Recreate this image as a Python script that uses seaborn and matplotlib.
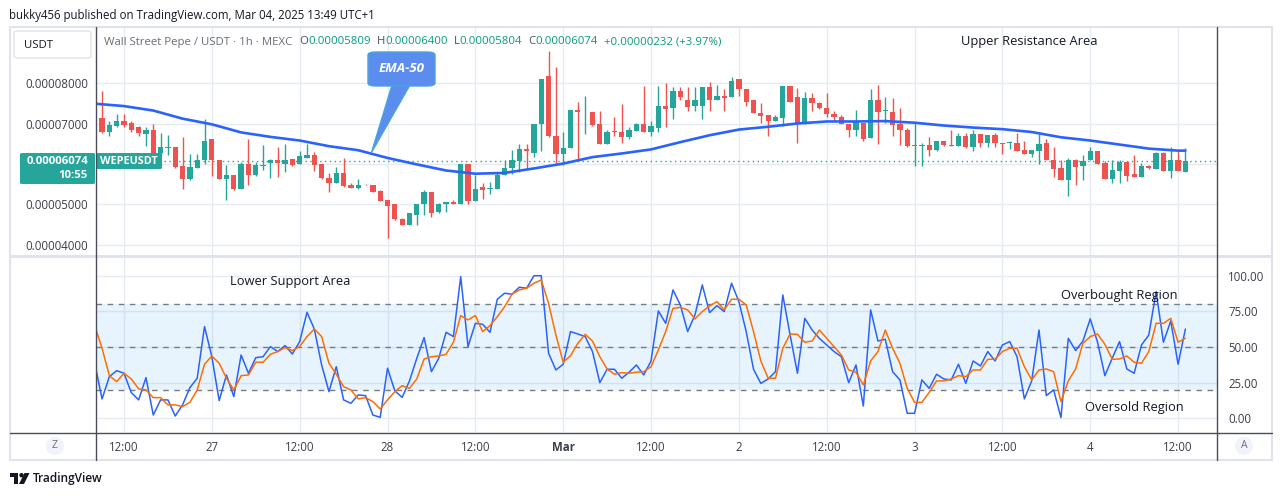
import numpy as np
import pandas as pd
import matplotlib
matplotlib.use("Agg")
import matplotlib.pyplot as plt
import matplotlib.patches as mpatches
from matplotlib.ticker import FixedLocator, FixedFormatter
import seaborn as sns

# hourly candles, hour = hours since Feb 26 00:00 (UTC+1)
hours = list(range(8, 158))
PRICE_UNIT = 1e-6  # prices below are in millionths of USDT

opens = [76.0, 71.3, 67.9, 69.5, 70.5, 70.2, 69.1, 67.4, 68.3, 62.8,
         64.0, 64.2, 59.4, 56.2, 59.0, 61.1, 66.1, 61.1, 56.2, 57.2,
         53.8, 59.9, 57.2, 59.6, 60.2, 61.1, 59.9, 61.3, 59.9, 61.5,
         62.1, 59.9, 56.6, 55.3, 57.8, 54.8, 54.1, 54.9, 54.9, 53.4,
         51.1, 50.1, 46.4, 44.9, 47.4, 50.0, 53.0, 48.2, 50.0, 50.6,
         50.0, 59.9, 50.8, 54.3, 53.8, 53.8, 57.2, 59.1, 60.7, 63.6,
         62.8, 69.8, 81.8, 67.0, 62.4, 63.9, 73.4, 72.5, 72.8, 69.8,
         64.9, 68.2, 68.0, 66.6, 68.1, 69.9, 67.9, 68.9, 74.2, 73.8,
         78.1, 75.9, 74.2, 74.4, 78.9, 75.9, 76.9, 76.5, 81.0, 78.5,
         75.9, 72.6, 72.0, 70.6, 71.3, 79.3, 76.6, 69.8, 76.3, 75.0,
         73.9, 72.4, 71.7, 69.9, 68.3, 70.2, 66.4, 75.9, 73.1, 72.9,
         69.8, 68.5, 64.5, 64.4, 64.8, 63.4, 65.6, 64.8, 64.4, 67.0,
         64.2, 67.5, 65.3, 67.2, 65.1, 65.2, 65.3, 63.4, 62.5, 63.1,
         65.2, 61.1, 58.9, 56.0, 61.1, 59.5, 61.1, 63.1, 60.2, 56.2,
         58.2, 60.5, 57.5, 56.8, 59.4, 58.7, 62.7, 58.2, 61.1, 58.09]

highs = [76.5, 78.1, 70.7, 72.4, 72.4, 70.5, 69.5, 69.1, 69.9, 67.7,
         67.2, 64.3, 66.6, 62.5, 62.5, 71.0, 66.1, 61.1, 59.8, 57.2,
         60.5, 66.1, 60.5, 64.8, 61.3, 64.2, 65.0, 61.3, 63.1, 65.0,
         63.0, 60.1, 57.9, 59.3, 61.6, 55.3, 56.4, 55.0, 54.9, 53.5,
         51.1, 50.2, 46.6, 47.8, 50.2, 53.5, 53.0, 50.4, 50.6, 51.1,
         59.9, 59.9, 57.4, 55.3, 55.6, 57.9, 61.1, 63.4, 65.0, 65.0,
         69.9, 81.0, 87.9, 83.9, 68.0, 73.4, 75.4, 76.7, 72.8, 73.0,
         68.3, 71.6, 74.8, 69.1, 70.2, 79.3, 70.7, 79.3, 80.0, 79.1,
         79.1, 78.9, 79.1, 79.1, 80.2, 79.6, 78.4, 81.4, 81.1, 78.5,
         75.9, 75.1, 72.0, 72.0, 79.3, 79.3, 78.8, 77.9, 77.5, 75.4,
         77.5, 73.2, 72.0, 69.9, 73.4, 70.2, 78.5, 79.5, 76.5, 76.2,
         73.8, 68.9, 70.2, 65.2, 66.6, 65.8, 65.8, 68.3, 67.7, 67.7,
         68.3, 67.5, 67.2, 67.7, 65.2, 65.6, 67.6, 65.8, 63.4, 67.5,
         66.2, 64.2, 61.1, 61.6, 61.3, 62.1, 64.1, 63.1, 60.7, 60.9,
         60.9, 60.5, 62.1, 60.2, 59.7, 63.0, 63.0, 64.1, 63.1, 64.00]

lows = [70.8, 67.7, 67.0, 69.1, 69.1, 68.0, 67.0, 64.4, 62.6, 62.1,
        62.1, 59.1, 53.9, 56.0, 58.9, 60.0, 57.0, 56.2, 51.1, 53.7,
        53.8, 54.8, 57.0, 58.4, 56.6, 56.8, 58.0, 59.5, 59.9, 61.5,
        58.2, 56.4, 53.1, 55.2, 54.3, 54.1, 53.9, 54.7, 53.0, 50.8,
        41.8, 46.1, 44.9, 44.9, 44.9, 47.4, 47.0, 48.0, 48.2, 50.0,
        50.0, 50.0, 50.8, 51.3, 52.7, 53.8, 57.2, 57.6, 58.0, 58.7,
        61.7, 63.1, 66.6, 59.9, 59.7, 63.9, 61.3, 67.3, 69.5, 64.9,
        64.9, 67.0, 65.2, 66.1, 68.1, 67.9, 67.0, 68.0, 69.1, 71.0,
        75.9, 73.0, 73.2, 71.0, 73.0, 75.7, 73.2, 76.5, 76.7, 74.3,
        72.5, 70.1, 67.0, 70.6, 69.5, 75.2, 65.2, 69.8, 73.2, 73.6,
        71.6, 70.5, 69.8, 66.6, 67.0, 65.6, 66.4, 65.0, 70.2, 67.0,
        64.8, 64.2, 59.5, 59.5, 61.9, 63.2, 64.4, 64.4, 64.4, 63.9,
        63.1, 64.2, 64.3, 64.3, 62.4, 63.8, 63.1, 62.5, 61.7, 60.1,
        61.1, 56.8, 56.0, 52.1, 54.8, 56.0, 61.1, 60.0, 56.2, 55.2,
        55.2, 55.7, 56.8, 56.8, 58.7, 58.7, 58.2, 56.6, 58.3, 58.04]

closes = [71.2, 67.9, 69.7, 70.5, 69.7, 68.3, 67.7, 68.3, 62.8, 64.2,
          64.2, 59.3, 56.2, 59.2, 60.9, 65.8, 60.9, 56.2, 57.2, 53.8,
          59.9, 57.2, 59.7, 59.8, 61.1, 60.2, 61.1, 59.7, 61.9, 62.1,
          59.8, 56.6, 55.3, 57.8, 54.6, 54.1, 54.9, 54.8, 53.1, 50.9,
          49.6, 46.3, 44.9, 47.8, 50.1, 53.0, 48.0, 50.1, 50.6, 50.2,
          59.9, 50.8, 53.9, 53.5, 54.0, 57.4, 59.1, 60.9, 63.6, 63.3,
          69.9, 81.0, 66.9, 62.4, 64.0, 73.4, 72.8, 72.7, 69.7, 64.9,
          68.0, 68.0, 66.6, 68.3, 69.9, 67.9, 69.3, 74.4, 73.5, 78.1,
          76.5, 74.0, 75.7, 79.1, 75.9, 76.9, 76.2, 80.6, 78.5, 75.4,
          72.5, 71.8, 70.6, 71.7, 79.3, 75.2, 69.8, 76.3, 75.1, 73.8,
          72.4, 71.6, 69.8, 68.4, 70.3, 66.1, 75.7, 72.8, 73.3, 69.7,
          68.5, 64.4, 64.6, 64.8, 63.4, 65.6, 64.6, 64.4, 67.0, 64.2,
          67.5, 65.3, 67.2, 65.2, 65.0, 65.4, 63.1, 62.5, 63.4, 65.0,
          61.1, 58.7, 56.0, 61.1, 59.3, 60.7, 63.1, 60.0, 56.2, 58.4,
          60.5, 57.0, 56.8, 59.4, 59.0, 62.7, 58.2, 61.1, 58.3, 60.74]

# EMA-50 every 4 hours
ema_hours = [8, 12, 16, 20, 24, 28, 32, 36, 40, 44, 48, 52, 56, 60, 64, 68, 72, 76, 80,
             84, 88, 92, 96, 100, 104, 108, 112, 116, 120, 124, 128, 132, 136, 140,
             144, 148, 152, 156, 157]
ema50 = [74.9, 74.3, 73.2, 71.2, 69.8, 67.8, 66.7, 65.8, 64.4, 63.4, 61.5, 59.9, 58.4,
         57.6, 57.8, 58.9, 60.1, 61.7, 62.6, 63.6, 65.4, 67.1, 68.5, 69.2, 70.0, 70.5,
         70.5, 70.6, 70.2, 69.5, 69.0, 68.6, 67.9, 66.6, 65.8, 64.8, 63.8, 63.3, 63.3]

# Stochastic RSI %K (blue) and %D (orange)
stoch_k = [38.6, 13.6, 29.2, 33.4, 31.6, 18.0, 12.9, 28.5, 2.3, 12.9,
           12.9, 1.6, 9.4, 21.5, 28.1, 64.3, 43.2, 12.4, 30.4, 15.2,
           44.4, 31.6, 42.5, 43.2, 50.3, 46.8, 51.0, 45.1, 53.8, 74.3,
           62.6, 37.4, 18.7, 36.2, 12.9, 10.5, 16.4, 15.9, 2.3, 0.7,
           35.1, 19.2, 14.7, 26.2, 42.1, 56.6, 32.7, 42.1, 60.3, 57.3,
           99.3, 50.3, 66.6, 65.9, 60.3, 83.5, 87.7, 87.0, 91.9, 91.2,
           100.0, 100.0, 45.6, 33.9, 37.9, 60.8, 59.1, 57.3, 46.8, 25.0,
           34.4, 34.4, 28.1, 32.3, 37.4, 30.4, 40.2, 75.3, 66.6, 90.0,
           79.5, 60.8, 72.5, 93.5, 74.1, 79.0, 74.8, 94.7, 81.8, 60.8,
           34.4, 24.5, 27.6, 32.7, 86.5, 58.4, 31.6, 70.1, 62.0, 56.0,
           51.4, 46.8, 43.2, 25.0, 37.4, 8.6, 76.0, 54.2, 55.4, 32.7,
           26.9, 3.5, 3.5, 26.9, 21.0, 30.9, 27.6, 26.9, 37.9, 24.5,
           40.2, 36.7, 46.8, 40.2, 51.4, 53.8, 43.2, 13.6, 26.2, 61.9,
           15.9, 19.9, 0.5, 56.1, 47.5, 54.2, 69.7, 53.3, 29.9, 42.1,
           53.8, 34.6, 31.6, 51.4, 58.4, 88.8, 53.3, 68.3, 37.9, 62.6]

stoch_d = [65.0, 49.1, 29.9, 25.7, 31.6, 27.6, 20.6, 19.9, 14.5, 14.5,
           9.4, 9.4, 8.2, 11.2, 19.9, 37.9, 43.7, 38.6, 28.1, 19.9,
           29.9, 30.4, 39.3, 39.3, 44.9, 46.8, 49.6, 47.5, 50.3, 57.3,
           62.6, 57.3, 38.6, 30.9, 22.2, 19.9, 13.6, 14.5, 11.7, 6.5,
           12.9, 18.7, 22.9, 21.0, 27.6, 41.6, 43.2, 43.7, 44.9, 53.3,
           72.0, 69.0, 72.0, 60.8, 65.0, 71.3, 78.3, 87.0, 90.0, 91.2,
           94.7, 97.0, 80.6, 58.4, 39.3, 43.9, 52.6, 58.9, 54.2, 43.2,
           34.6, 30.9, 32.0, 31.6, 32.3, 32.7, 36.2, 47.9, 60.8, 77.1,
           77.8, 76.0, 69.7, 74.8, 78.8, 81.8, 76.0, 83.5, 83.5, 79.5,
           60.8, 40.2, 28.1, 28.1, 49.1, 59.1, 58.9, 53.3, 54.2, 61.9,
           56.1, 50.3, 44.4, 33.9, 32.3, 23.4, 40.2, 46.8, 61.9, 49.1,
           38.6, 21.0, 11.2, 11.2, 18.2, 26.2, 26.2, 27.6, 29.9, 29.2,
           33.9, 33.9, 41.4, 41.4, 46.8, 49.1, 49.1, 36.2, 26.9, 33.9,
           34.6, 32.7, 11.7, 26.2, 34.6, 52.6, 57.3, 59.1, 51.9, 41.4,
           41.6, 43.7, 39.3, 38.6, 46.8, 66.6, 66.6, 70.1, 53.3, 56.1]

tick_hours = [12, 24, 36, 48, 60, 72, 84, 96, 108, 120, 132, 144, 156]
tick_labels = ["12:00", "27", "12:00", "28", "12:00", "Mar", "12:00", "2",
               "12:00", "3", "12:00", "4", "12:00"]
price_ticks = [40, 50, 60, 70, 80]
price_tick_labels = ["0.00004000", "0.00005000", "", "0.00007000", "0.00008000"]
rsi_ticks = [0, 25, 50, 75, 100]
last_close = 60.74

GREEN, RED = "#26a69a", "#ef5350"
BLUE, ORANGE = "#2962ff", "#ff6d00"
GRID = "#e6ebf2"
FRAME = "#4a4d57"
TXT = "#131722"

sns.set_theme(style="white")
plt.rcParams["font.family"] = ["Open Sans", "DejaVu Sans"]

W, H = 1281, 496
fig = plt.figure(figsize=(W / 100, H / 100), dpi=100)
fig.patch.set_facecolor("white")


def fx(x):
    return x / W


def fy(y):
    return 1 - y / H


ax_p = fig.add_axes([fx(96), fy(255), fx(1217) - fx(96), fy(27) - fy(255)])
ax_r = fig.add_axes([fx(96), fy(432), fx(1217) - fx(96), fy(258) - fy(432)])

x_lo = 12 - 28 / 7.32
x_hi = 12 + 1093 / 7.32

# ---------- price panel ----------
df = pd.DataFrame({"hour": hours, "open": opens, "high": highs, "low": lows, "close": closes})
for c in ["open", "high", "low", "close"]:
    df[c] = df[c] * PRICE_UNIT
up = df["close"] >= df["open"]
colors = np.where(up, GREEN, RED)
body = (df["close"] - df["open"]).abs().clip(lower=0.12 * PRICE_UNIT)
ax_p.vlines(df["hour"], df["low"], df["high"], colors=colors, lw=1, zorder=3)
ax_p.bar(df["hour"], body, bottom=df[["open", "close"]].min(axis=1), width=0.72,
         color=colors, linewidth=0, zorder=4)

sns.lineplot(x=ema_hours, y=[v * PRICE_UNIT for v in ema50], ax=ax_p, color=BLUE,
             lw=1.9, zorder=5)
ax_p.axhline(last_close * PRICE_UNIT, color=GREEN, ls=(0, (1, 2.5)), lw=1, zorder=2)

ax_p.set_xlim(x_lo, x_hi)
ax_p.set_ylim(37.53 * PRICE_UNIT, 93.83 * PRICE_UNIT)
ax_p.yaxis.set_major_locator(FixedLocator([v * PRICE_UNIT for v in price_ticks]))
ax_p.yaxis.set_major_formatter(FixedFormatter(price_tick_labels))
ax_p.set_xticks(tick_hours)
ax_p.tick_params(axis="x", labelbottom=False, length=0)
ax_p.tick_params(axis="y", length=0, pad=5.8, labelsize=8.3, labelcolor="#3b3e48")
ax_p.grid(True, color=GRID, lw=1)
ax_p.set_axisbelow(True)
for s in ax_p.spines.values():
    s.set_visible(False)
ax_p.set_xlabel("")
ax_p.set_ylabel("")

# ---------- stoch RSI panel ----------
ax_r.axhspan(20, 80, color="#2196f3", alpha=0.1, lw=0, zorder=1)
for lvl in [80, 50, 20]:
    ax_r.axhline(lvl, color="#787b86", ls=(0, (4, 4)), lw=1, zorder=2)
sns.lineplot(x=hours, y=stoch_k, ax=ax_r, color=BLUE, lw=1.1, zorder=4)
sns.lineplot(x=hours, y=stoch_d, ax=ax_r, color=ORANGE, lw=1.1, zorder=5)
ax_r.set_xlim(x_lo, x_hi)
ax_r.set_ylim(-9.6, 112.4)
ax_r.yaxis.tick_right()
ax_r.set_yticks(rsi_ticks)
ax_r.set_yticklabels([f"{v:.2f}" for v in rsi_ticks])
ax_r.set_xticks(tick_hours)
ax_r.set_xticklabels(tick_labels)
for lab in ax_r.get_xticklabels():
    if lab.get_text() == "Mar":
        lab.set_fontweight("bold")
ax_r.tick_params(axis="y", length=0, pad=8, labelsize=8.3, labelcolor="#3b3e48")
ax_r.tick_params(axis="x", length=0, pad=6.5, labelsize=8.3, labelcolor="#3b3e48")
ax_r.grid(True, color=GRID, lw=1)
ax_r.set_axisbelow(True)
for s in ax_r.spines.values():
    s.set_visible(False)
ax_r.set_xlabel("")
ax_r.set_ylabel("")

# ---------- frame lines ----------
fig.add_artist(mpatches.Rectangle((fx(10), fy(460)), fx(1272) - fx(10), fy(27) - fy(460),
                                  transform=fig.transFigure, fc="none", ec="#e0e3eb", lw=1.5))
fig.add_artist(mpatches.Rectangle((fx(10), fy(258)), fx(1272) - fx(10), fy(255) - fy(258),
                                  transform=fig.transFigure, fc="#e0e3eb", ec="none"))
fig.add_artist(plt.Line2D([fx(96), fx(96)], [fy(27), fy(460)], color=FRAME, lw=1))
fig.add_artist(plt.Line2D([fx(1217), fx(1217)], [fy(27), fy(460)], color=FRAME, lw=1))
fig.add_artist(plt.Line2D([fx(10), fx(1272)], [fy(432.5), fy(432.5)], color=FRAME, lw=1))

# ---------- header texts ----------
fig.text(fx(9), fy(15), "bukky456 published on TradingView.com, Mar 04, 2025 13:49 UTC+1",
         fontsize=8.3, color=TXT, va="center", ha="left")

renderer = fig.canvas.get_renderer()
pieces = [("Wall Street Pepe / USDT · 1h · MEXC", "#6a6d78", 7),
          ("O", "#4a4d57", 0), ("0.00005809", "#089981", 6),
          ("H", "#4a4d57", 0), ("0.00006400", "#089981", 6),
          ("L", "#4a4d57", 0), ("0.00005804", "#089981", 6),
          ("C", "#4a4d57", 0), ("0.00006074", "#089981", 6),
          ("+0.00000232 (+3.97%)", "#089981", 0)]
xpos = 104
for txt, col, gap in pieces:
    t = fig.text(fx(xpos), fy(42), txt, fontsize=8.2, color=col, va="center", ha="left")
    xpos += t.get_window_extent(renderer=renderer).width + gap

fig.add_artist(mpatches.FancyBboxPatch((fx(14), fy(58)), fx(91) - fx(14), fy(31) - fy(58),
                                       boxstyle="round,pad=0,rounding_size=0.004",
                                       transform=fig.transFigure, fc="white", ec="#e0e3eb", lw=1))
fig.text(fx(24), fy(45), "USDT", fontsize=8.2, color=TXT, va="center", ha="left")

# current price tags
fig.add_artist(mpatches.FancyBboxPatch((fx(20), fy(184)), fx(95) - fx(20), fy(153) - fy(184),
                                       boxstyle="round,pad=0,rounding_size=0.002",
                                       transform=fig.transFigure, fc=GREEN, ec="none"))
fig.text(fx(88), fy(161.5), "0.00006074", fontsize=8.2, fontweight="bold", color="white",
         va="center", ha="right")
fig.text(fx(88), fy(176), "10:55", fontsize=8.2, fontweight="bold", color="white",
         va="center", ha="right")
fig.add_artist(mpatches.FancyBboxPatch((fx(96), fy(169)), fx(162) - fx(96), fy(153) - fy(169),
                                       boxstyle="round,pad=0,rounding_size=0.002",
                                       transform=fig.transFigure, fc=GREEN, ec="none"))
fig.text(fx(129), fy(161.5), "WEPEUSDT", fontsize=7.8, fontweight="bold", color="white",
         va="center", ha="center")

# EMA-50 callout
callout = [(fx(392), fy(85)), (fx(371.5), fy(152.5)), (fx(410), fy(85))]
fig.add_artist(mpatches.Polygon(callout, closed=True, transform=fig.transFigure,
                                fc="#5b8def", ec="#4aa3df", lw=1, zorder=10))
fig.add_artist(mpatches.FancyBboxPatch((fx(368), fy(86)), fx(435) - fx(368), fy(52) - fy(86),
                                       boxstyle="round,pad=0,rounding_size=0.006",
                                       transform=fig.transFigure, fc="#5b8def", ec="#4aa3df",
                                       lw=1, zorder=11))
fig.text(fx(401.5), fy(69), "EMA-50", fontsize=9.5, fontweight="bold", fontstyle="italic",
         color="white", va="center", ha="center", zorder=12)

# area labels
for txt, x, y in [("Upper Resistance Area", 1029, 42), ("Lower Support Area", 290, 281),
                  ("Overbought Region", 1119, 296), ("Oversold Region", 1134, 408)]:
    fig.text(fx(x), fy(y), txt, fontsize=9.3, color=TXT, va="center", ha="center", zorder=12)

# bottom corner buttons
for letter, x in [("Z", 55), ("A", 1244)]:
    fig.add_artist(mpatches.Ellipse((fx(x), fy(446)), 18 / W, 18 / H, transform=fig.transFigure,
                                    fc="#f0f3fa", ec="none"))
    fig.text(fx(x), fy(446), letter, fontsize=7.5, color="#6a6d78", va="center", ha="center")

# TradingView footer logo
logo_t = [(fx(10), fy(473)), (fx(18), fy(473)), (fx(18), fy(484)), (fx(14), fy(484)),
          (fx(14), fy(477)), (fx(10), fy(477))]
fig.add_artist(mpatches.Polygon(logo_t, closed=True, transform=fig.transFigure, fc=TXT, ec="none"))
fig.add_artist(mpatches.Ellipse((fx(21.5), fy(475.2)), 4.4 / W, 4.4 / H, transform=fig.transFigure,
                                fc=TXT, ec="none"))
logo_s = [(fx(19), fy(484)), (fx(24.5), fy(473)), (fx(29.5), fy(473)), (fx(24), fy(484))]
fig.add_artist(mpatches.Polygon(logo_s, closed=True, transform=fig.transFigure, fc=TXT, ec="none"))
fig.text(fx(33), fy(478.5), "TradingView", fontsize=8.6, fontweight="semibold", color=TXT,
         va="center", ha="left")

fig.savefig("out.png", dpi=100, facecolor="white")
